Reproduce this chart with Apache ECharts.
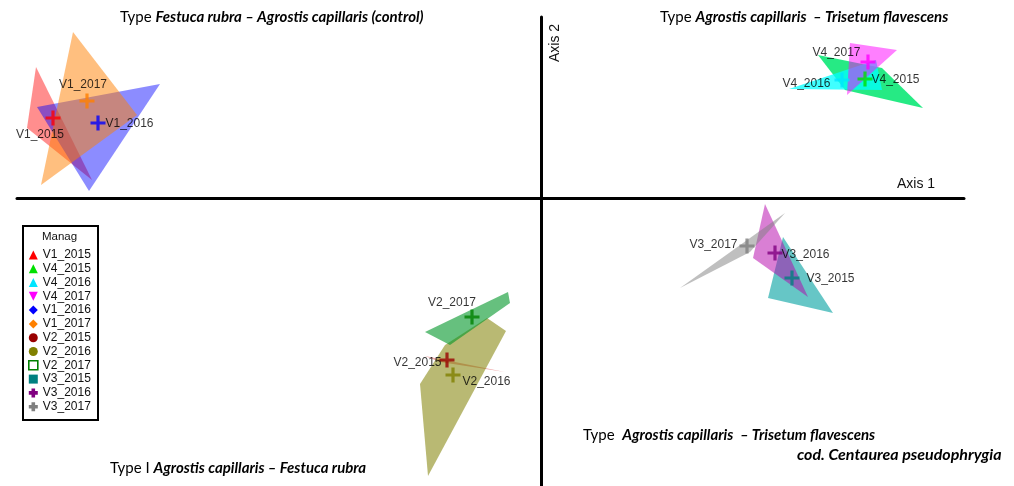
<!DOCTYPE html>
<html><head><meta charset="utf-8">
<script src="https://cdn.jsdelivr.net/npm/echarts@6/dist/echarts.min.js"></script>
<style>html,body{margin:0;padding:0;background:#fff}#c{width:1014px;height:486px}</style>
</head><body><div id="c"></div>
<script>
// Management groups (ordination scores on Axis 1 / Axis 2)
const groups = ['V1_2015','V4_2015','V4_2016','V4_2017','V1_2016','V1_2017','V2_2015','V2_2016','V2_2017','V3_2015','V3_2016','V3_2017'];
// Group centroids
const centroids = [
  [-4.88, 0.80], [3.24, 1.19], [3.01, 1.18], [3.27, 1.36],
  [-4.43, 0.75], [-4.54, 0.97], [-0.94, -1.62], [-0.88, -1.77],
  [-0.69, -1.19], [2.51, -0.80], [2.34, -0.55], [2.06, -0.48]
];
// Convex hulls of the plots in each group
const hulls = [
  [[-5.05, 1.31], [-5.14, 0.70], [-4.49, 0.18]],
  [[2.77, 1.43], [3.41, 1.30], [3.82, 0.90], [3.04, 1.08]],
  [[2.48, 1.09], [3.35, 1.38], [3.41, 1.08]],
  [[3.09, 1.55], [3.56, 1.48], [3.06, 1.03]],
  [[-3.81, 1.14], [-5.04, 0.91], [-4.52, 0.07]],
  [[-4.68, 1.66], [-5.00, 0.13], [-4.04, 0.83]],
  [[-1.16, -1.58], [-0.36, -1.74], [-1.01, -1.64]],
  [[-0.54, -1.20], [-0.35, -1.33], [-1.13, -2.78], [-1.21, -1.86], [-0.96, -1.47]],
  [[-1.16, -1.34], [-0.33, -0.94], [-0.31, -1.05], [-0.91, -1.47]],
  [[2.42, -0.39], [2.27, -1.00], [2.92, -1.15]],
  [[2.24, -0.06], [2.12, -0.60], [2.67, -0.99]],
  [[1.39, -0.90], [2.44, -0.15], [2.09, -0.54]]
];

const colors = ['#ff0000','#00e000','#00e5ff','#ff00ff','#0000ff','#ff8000','#990000','#808000','#008000','#008080','#800080','#808080'];
const fills = ['rgba(255,30,30,0.5)','rgba(0,230,110,0.85)','rgba(0,255,255,0.75)','rgba(255,0,255,0.5)',
  'rgba(0,0,255,0.45)','rgba(255,128,0,0.5)','rgba(200,0,0,0.35)','rgba(128,128,0,0.55)',
  'rgba(0,150,40,0.6)','rgba(0,160,160,0.6)','rgba(180,0,170,0.5)','rgba(128,128,128,0.5)'];
const icons = ['triangle','triangle','triangle','path://M0,0L10,0L5,10Z','diamond','diamond','circle','circle','rect','rect',
  'path://M3,0H7V3H10V7H7V10H3V7H0V3H3Z','path://M3,0H7V3H10V7H7V10H3V7H0V3H3Z'];
const labelPlace = {
  V1_2015: {position: 'bottom', offset: [-13, -2]},
  V4_2015: {position: 'right', distance: -1, offset: [0, 1]},
  V4_2016: {position: 'left', distance: 4, offset: [0, 4]},
  V4_2017: {position: 'left', distance: 0, offset: [0, -9]},
  V1_2016: {position: 'right', distance: 0, offset: [0, 1]},
  V1_2017: {position: 'top', distance: 3, offset: [-4, 0]},
  V2_2015: {position: 'left', distance: -2, offset: [0, 3]},
  V2_2016: {position: 'right', distance: 2, offset: [0, 7]},
  V2_2017: {position: 'top', distance: 1, offset: [-20, 0]},
  V3_2015: {position: 'right', distance: 7, offset: [0, 1]},
  V3_2016: {position: 'right', distance: -1, offset: [0, 2]},
  V3_2017: {position: 'left', distance: 2, offset: [0, -1]}
};
const plusPath = 'path://M6.3,0H9.7V6.3H16V9.7H9.7V16H6.3V9.7H0V6.3H6.3Z';
const sans = 'Liberation Sans, Arial, sans-serif';

const series = [];
groups.forEach((g, i) => {
  series.push({
    name: g, type: 'custom', z: 2,
    itemStyle: {color: colors[i]},
    data: hulls[i],
    renderItem: (params, api) => {
      if (params.dataIndex !== 0) return null;
      const pts = hulls[i].map(p => api.coord(p));
      return {type: 'polygon', shape: {points: pts}, style: {fill: fills[i], stroke: null}};
    },
    silent: true
  });
});
groups.forEach((g, i) => {
  series.push({
    name: g, type: 'scatter', z: 5,
    symbol: plusPath, symbolSize: 15,
    itemStyle: {color: colors[i]},
    data: [centroids[i]],
    label: Object.assign({show: true, formatter: g, color: '#000',
      fontFamily: sans, fontSize: 12}, labelPlace[g])
  });
});

const legendData = groups.map((g, i) => {
  const d = {name: g, icon: icons[i], itemStyle: {color: colors[i]}};
  if (g === 'V2_2017') d.itemStyle = {color: '#fff', borderColor: colors[i], borderWidth: 1.6};
  return d;
});

const titleFont = 'Lato, "Open Sans", sans-serif';
const rich = {
  n: {fontFamily: titleFont, fontSize: 15, color: '#111'},
  b: {fontFamily: titleFont, fontSize: 15, fontWeight: 'bold', fontStyle: 'italic', color: '#111'},
  c: {fontFamily: titleFont, fontSize: 16, fontWeight: 'bold', fontStyle: 'italic', color: '#111'}
};
function titleText(x, y, str) {
  return {type: 'text', left: x, top: y, z: 10, style: {text: str, rich: rich}};
}

const chart = echarts.init(document.getElementById('c'), null, {renderer: 'canvas'});
chart.setOption({
  animation: false,
  backgroundColor: '#fff',
  grid: {left: 17, right: 50, top: 17, bottom: 0, containLabel: false},
  xAxis: {type: 'value', min: -5.24, max: 4.23, axisLine: {onZero: true, lineStyle: {color: '#000', width: 3}},
    axisTick: {show: false}, axisLabel: {show: false}, splitLine: {show: false}},
  yAxis: {type: 'value', min: -2.88, max: 1.81, axisLine: {onZero: true, lineStyle: {color: '#000', width: 3}},
    axisTick: {show: false}, axisLabel: {show: false}, splitLine: {show: false}},
  legend: {
    orient: 'vertical', left: 28, top: 248, padding: 0, itemGap: 0,
    itemWidth: 9, itemHeight: 9, selectedMode: false,
    textStyle: {fontFamily: sans, fontSize: 12, color: '#111', lineHeight: 13.8},
    data: legendData
  },
  graphic: [
    {type: 'rect', left: 22, top: 225, z: 1, shape: {width: 75, height: 194},
      style: {fill: '#fff', stroke: '#000', lineWidth: 2}},
    {type: 'text', left: 42, top: 231, z: 10, style: {text: 'Manag', font: '11.5px "Liberation Sans", Arial', fill: '#111'}},
    {type: 'text', left: 897, top: 177, z: 10, style: {text: 'Axis 1', font: '14px "Liberation Sans", Arial', fill: '#111'}},
    {type: 'text', x: 548, y: 62, rotation: Math.PI / 2, z: 10, style: {text: 'Axis 2', font: '14px "Liberation Sans", Arial', fill: '#111'}},
    titleText(120, 10, '{n|Type }{b|Festuca rubra – Agrostis capillaris (control)}'),
    titleText(660, 10, '{n|Type }{b|Agrostis capillaris  – Trisetum flavescens}'),
    titleText(583, 428, '{n|Type  }{b|Agrostis capillaris  – Trisetum flavescens}'),
    titleText(797, 447, '{c|cod. Centaurea pseudophrygia}'),
    titleText(110, 461, '{n|Type I }{b|Agrostis capillaris – Festuca rubra}')
  ],
  series: series
});
</script></body></html>
